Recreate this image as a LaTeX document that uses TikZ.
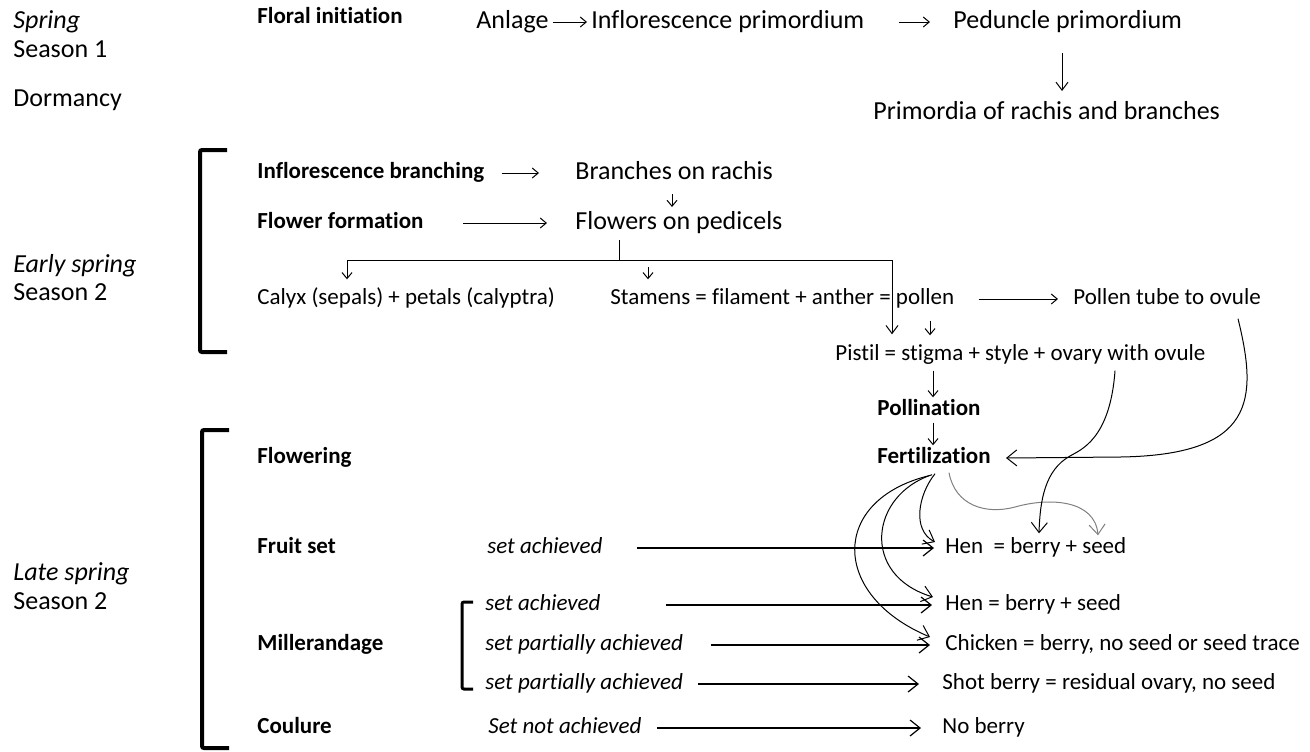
\documentclass[tikz,border=0pt]{standalone}
\usepackage{fontspec}
\setmainfont{Carlito}[Ligatures=NoCommon]
\usepackage{tikz}
\usetikzlibrary{positioning,arrows.meta,calc}

\begin{document}
\begin{tikzpicture}[
    x=0.5pt, y=-0.5pt,
    every node/.style={inner sep=0pt, anchor=west},
    big_txt/.style={font=\fontsize{13}{15}\selectfont, text height=9pt, text depth=2.6pt},
    season_txt/.style={big_txt, font=\fontsize{13}{15}\selectfont\itshape},
    part_txt/.style={font=\fontsize{11.5}{14}\selectfont, text height=8pt, text depth=2.3pt},
    stage_txt/.style={part_txt, font=\fontsize{11.5}{14}\selectfont\bfseries},
    cond_txt/.style={part_txt, font=\fontsize{11.5}{14}\selectfont\itshape},
    flow_arrow/.style={-{Straight Barb[length=5pt,width=8pt]}, line width=0.6pt},
    mid_arrow/.style={-{Straight Barb[length=4pt,width=6pt]}, line width=0.5pt},
    tiny_arrow/.style={-{Straight Barb[length=3pt,width=5pt]}, line width=0.5pt},
    curve_arrow/.style={flow_arrow, line width=0.5pt},
    bracket_line/.style={line width=2pt, rounded corners=1pt},
    small_bracket/.style={line width=1.5pt, rounded corners=1pt}
]
\useasboundingbox (0,0) rectangle (1310,751);

% seasons
\node (spring) [season_txt] at (13,22)  {Spring};
\node (seasA)  [big_txt]    at (13,51)  {Season 1};
\node (dorm)   [big_txt]    at (13,100) {Dormancy};
\node (early)  [season_txt] at (13,266) {Early spring};
\node (seasB)  [big_txt]    at (13,294) {Season 2};
\node (late)   [season_txt] at (13,574) {Late spring};
\node (seasC)  [big_txt]    at (13,603) {Season 2};

% brackets
\draw [bracket_line] (227,150) -- (200,150) -- (200,352) -- (227,352);
\draw [bracket_line] (229,430) -- (202,430) -- (202,748) -- (229,748);
\draw [small_bracket] (473,602) -- (462,602) -- (462,689) -- (473,689);

% stages
\node (floral)    [stage_txt] at (257,18)  {Floral initiation};
\node (inflbr)    [stage_txt] at (257,173) {Inflorescence branching};
\node (flform)    [stage_txt] at (257,223) {Flower formation};
\node (flowering) [stage_txt] at (257,458) {Flowering};
\node (fruitset)  [stage_txt] at (257,548) {Fruit set};
\node (miller)    [stage_txt] at (257,645) {Millerandage};
\node (coulure)   [stage_txt] at (257,728) {Coulure};

% inflorescence
\node (anlage)   [big_txt] at (476,22)  {Anlage};
\node (inflprim) [big_txt] at (591,22)  {Inflorescence primordium};
\node (pedun)    [big_txt] at (953,22)  {Peduncle primordium};
\node (primo)    [big_txt] at (873,113) {Primordia of rachis and branches};
\node (branch)   [big_txt] at (575,173) {Branches on rachis};
\node (flowers)  [big_txt] at (575,223) {Flowers on pedicels};

% flower parts
\node (calyx)   [part_txt] at (257,299)  {Calyx (sepals) + petals (calyptra)};
\node (stamens) [part_txt] at (610,299)  {Stamens = filament + anther = pollen};
\node (ptube)   [part_txt] at (1073,299) {Pollen tube to ovule};
\node (pistil)  [part_txt] at (835,355)  {Pistil = stigma + style + ovary with ovule};
\node (pollin)  [stage_txt] at (877,410) {Pollination};
\node (fert)    [stage_txt] at (877,458) {Fertilization};

% set conditions
\node (setfs) [cond_txt] at (487,548) {set achieved};
\node (setm1) [cond_txt] at (485,605) {set achieved};
\node (setm2) [cond_txt] at (485,645) {set partially achieved};
\node (setm3) [cond_txt] at (485,684) {set partially achieved};
\node (setco) [cond_txt] at (488,728) {Set not achieved};

% berries
\node (hen1)    [part_txt] at (945,548) {Hen\ \ = berry + seed};
\node (hen2)    [part_txt] at (945,605) {Hen = berry + seed};
\node (chick)   [part_txt] at (945,645) {Chicken = berry, no seed or seed trace};
\node (shot)    [part_txt] at (942,684) {Shot berry = residual ovary, no seed};
\node (noberry) [part_txt] at (942,728) {No berry};

\coordinate (forktop) at (619,240);
\coordinate (fork)    at (619,260);

% top rows
\draw [tiny_arrow, shorten <=2pt, shorten >=2pt] (anlage) -- (inflprim);
\draw [tiny_arrow, shorten <=17pt, shorten >=11.5pt] (inflprim) -- (pedun);
\draw [mid_arrow] ($(pedun.south west)+(109,19)$) -- ($(primo.north west)+(189,-10)$);
\draw [tiny_arrow, shorten <=8.5pt, shorten >=18pt] (inflbr) -- (branch);
\draw [tiny_arrow] ($(branch.south west)+(97,9)$) -- ($(flowers.north west)+(97,-4)$);
\draw [tiny_arrow, shorten <=19.5pt, shorten >=14pt] (flform) -- (flowers);

% flower parts
\draw (forktop) -- (fork);
\draw [tiny_arrow] (fork) -| ($(calyx.north west)+(90,-9)$);
\draw [mid_arrow] (fork) -| ($(pistil.north west)+(57,-10)$);
\draw [tiny_arrow] ($(fork)+(29,7)$) -- ($(stamens.north west)+(38,-9)$);
\draw [tiny_arrow, shorten <=12pt, shorten >=7.5pt] (stamens) -- (ptube);
\draw [tiny_arrow] ($(stamens.south west)+(320,11)$) -- ($(pistil.north west)+(95,-9)$);
\draw [tiny_arrow] ($(pistil.south west)+(98,5)$) -- ($(pollin.north west)+(56,-2)$);
\draw [tiny_arrow] ($(pollin.south west)+(56,2)$) -- ($(fert.north west)+(56,-2)$);

% to fertilization
\draw [curve_arrow] ($(ptube.south west)+(165,9)$) .. controls (1258,400) and (1255,455) .. (1120,457) -- ($(fert.east)+(15,0)$);

% set
\draw [flow_arrow, shorten <=17pt, shorten >=5.5pt] (setfs) -- (hen1);
\draw [flow_arrow, shorten <=32.5pt, shorten >=6.5pt] (setm1) -- (hen2);
\draw [flow_arrow, shorten <=14pt, shorten >=7.5pt] (setm2) -- (chick);
\draw [flow_arrow, shorten <=7.5pt, shorten >=11.5pt] (setm3) -- (shot);
\draw [flow_arrow, shorten <=7.5pt, shorten >=10.5pt] (setco) -- (noberry);

% outcomes of fertilization
\draw [curve_arrow] ($(fert.south)+(1,5)$) .. controls (918,495) and (912,530) .. ($(hen1.west)+(-10,-6)$);
\draw [curve_arrow] ($(fert.south)+(-2,6)$) .. controls (870,495) and (860,575) .. ($(hen2.west)+(-12,-8)$);
\draw [curve_arrow] ($(fert.south)+(-5,7)$) .. controls (830,500) and (830,595) .. ($(chick.west)+(-15,-8)$);
\draw [curve_arrow, draw=gray] ($(fert.south)+(15,4)$) .. controls (955,505) and (985,515) .. (1015,507) .. controls (1050,497) and (1095,500) .. ($(hen1.north west)+(153,-2)$);
\draw [curve_arrow] ($(pistil.south west)+(280,5)$) .. controls (1110,440) and (1080,450) .. (1070,456) .. controls (1045,470) and (1040,500) .. ($(hen1.north west)+(94,-4)$);

\end{tikzpicture}
\end{document}
